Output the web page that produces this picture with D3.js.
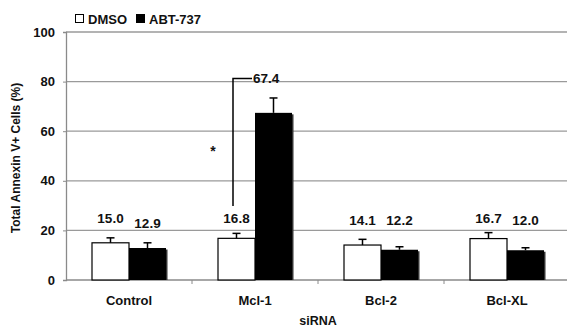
<!DOCTYPE html>
<html lang="en">
<head>
    <meta charset="UTF-8">
    <title>Annexin V+ Cells</title>
    <script src="https://d3js.org/d3.v7.min.js"></script>
    <style>
        body { margin: 0; background: #fff; }
        svg { display: block; font-family: "Liberation Sans", Arial, sans-serif; font-weight: bold; }
    </style>
</head>
<body>
    <div id="chart"></div>
    <script>
        const categories = ["Control", "Mcl-1", "Bcl-2", "Bcl-XL"];
        const seriesNames = ["DMSO", "ABT-737"];
        const dmso = [15.0, 16.8, 14.1, 16.7];
        const abt = [12.9, 67.4, 12.2, 12.0];
        const dmsoErr = [2.0, 2.0, 2.3, 2.4];
        const abtErr = [2.1, 6.0, 1.2, 1.0];
        // height (in % units) where each value label sits
        const dmsoLabelAt = [24.7, 24.7, 24.0, 25.0];
        const abtLabelAt = [22.7, 80.8, 24.0, 24.2];
        const yTicks = [0, 20, 40, 60, 80, 100];

        const width = 567, height = 328;
        const margin = {top: 32, right: -3, bottom: 48, left: 66};

        const svg = d3.select("#chart").append("svg")
            .attr("width", width)
            .attr("height", height);

        const x = d3.scaleBand()
            .domain(categories)
            .range([margin.left, width - margin.right]);

        const y = d3.scaleLinear()
            .domain([0, 100])
            .range([height - margin.bottom, margin.top]);

        const barW = 37;

        // gridlines
        svg.append("g")
            .selectAll("line")
            .data(yTicks.filter(d => d > 0))
            .enter().append("line")
            .attr("x1", margin.left)
            .attr("x2", width - margin.right)
            .attr("y1", d => y(d))
            .attr("y2", d => y(d))
            .attr("stroke", "#9a9a9a")
            .attr("stroke-width", 1.3);

        // y axis
        const yAxis = svg.append("g")
            .attr("transform", `translate(${margin.left},0)`)
            .call(d3.axisLeft(y).tickValues(yTicks).tickSize(3).tickPadding(8));
        yAxis.select(".domain").attr("stroke", "#8a8a8a").attr("stroke-width", 1.3);
        yAxis.selectAll(".tick line").attr("stroke", "#8a8a8a");
        yAxis.selectAll("text")
            .attr("font-size", 13)
            .attr("font-family", "'Liberation Sans', Arial, sans-serif")
            .attr("font-weight", "bold")
            .attr("fill", "#111");

        // x axis line + ticks at band boundaries
        svg.append("line")
            .attr("x1", margin.left).attr("x2", width - margin.right)
            .attr("y1", y(0)).attr("y2", y(0))
            .attr("stroke", "#8a8a8a").attr("stroke-width", 1.3);
        svg.append("g")
            .selectAll("line")
            .data(categories.slice(1))
            .enter().append("line")
            .attr("x1", d => x(d)).attr("x2", d => x(d))
            .attr("y1", y(0)).attr("y2", y(0) + 4)
            .attr("stroke", "#8a8a8a");

        svg.append("g")
            .selectAll("text")
            .data(categories)
            .enter().append("text")
            .attr("x", d => x(d) + x.bandwidth() / 2)
            .attr("y", y(0) + 25)
            .attr("text-anchor", "middle")
            .attr("font-size", 13)
            .attr("fill", "#111")
            .text(d => d);

        const cx = d => x(d) + x.bandwidth() / 2;

        // ABT-737 shadow + bars
        const g = svg.append("g");
        g.selectAll(".shadow")
            .data(categories)
            .enter().append("rect")
            .attr("x", d => cx(d) + 1.5)
            .attr("y", (d, i) => y(abt[i]) + 1.5)
            .attr("width", barW)
            .attr("height", (d, i) => y(0) - y(abt[i]) - 1.5)
            .attr("fill", "#333");

        g.selectAll(".abt")
            .data(categories)
            .enter().append("rect")
            .attr("x", d => cx(d))
            .attr("y", (d, i) => y(abt[i]))
            .attr("width", barW)
            .attr("height", (d, i) => y(0) - y(abt[i]))
            .attr("fill", "#000");

        g.selectAll(".dmso")
            .data(categories)
            .enter().append("rect")
            .attr("x", d => cx(d) - barW)
            .attr("y", (d, i) => y(dmso[i]))
            .attr("width", barW)
            .attr("height", (d, i) => y(0) - y(dmso[i]))
            .attr("fill", "#fff")
            .attr("stroke", "#000")
            .attr("stroke-width", 1.2);

        // error bars
        function errBars(vals, errs, offset) {
            const eg = svg.append("g").attr("stroke", "#000").attr("stroke-width", 1.5);
            categories.forEach((c, i) => {
                const ex = cx(c) + offset;
                eg.append("line")
                    .attr("x1", ex).attr("x2", ex)
                    .attr("y1", y(vals[i])).attr("y2", y(vals[i] + errs[i]));
                eg.append("line")
                    .attr("x1", ex - 4).attr("x2", ex + 4)
                    .attr("y1", y(vals[i] + errs[i])).attr("y2", y(vals[i] + errs[i]));
            });
        }
        errBars(dmso, dmsoErr, -barW / 2);
        errBars(abt, abtErr, barW / 2);

        // value labels
        const lbl = svg.append("g")
            .attr("font-size", 13.5)
            .attr("text-anchor", "middle")
            .attr("fill", "#111");
        categories.forEach((c, i) => {
            lbl.append("text")
                .attr("x", cx(c) - barW / 2)
                .attr("y", y(dmsoLabelAt[i]))
                .attr("dy", "0.35em")
                .text(dmso[i].toFixed(1));
            if (i !== 1) {
                lbl.append("text")
                    .attr("x", cx(c) + barW / 2)
                    .attr("y", y(abtLabelAt[i]))
                    .attr("dy", "0.35em")
                    .text(abt[i].toFixed(1));
            }
        });

        // Mcl-1 bracket with 67.4 label and asterisk
        const bx = cx("Mcl-1") - 22;
        svg.append("path")
            .attr("d", `M${bx},${y(29.8)}V${y(81.3)}H${bx + 19}`)
            .attr("fill", "none")
            .attr("stroke", "#000")
            .attr("stroke-width", 1.5);
        svg.append("text")
            .attr("x", bx + 20)
            .attr("y", y(81.3))
            .attr("dy", "0.35em")
            .attr("font-size", 13.5)
            .attr("fill", "#111")
            .text(abt[1].toFixed(1));
        svg.append("text")
            .attr("x", bx - 20)
            .attr("y", y(54))
            .attr("dy", "0.7em")
            .attr("text-anchor", "middle")
            .attr("font-size", 14)
            .attr("fill", "#111")
            .text("*");

        // y title
        svg.append("text")
            .attr("transform", `translate(20,${(y(0) + y(100)) / 2 + 2}) rotate(-90)`)
            .attr("text-anchor", "middle")
            .attr("font-size", 12)
            .attr("fill", "#111")
            .text("Total Annexin V+ Cells (%)");

        // x title
        svg.append("text")
            .attr("x", (margin.left + width - margin.right) / 2)
            .attr("y", 325)
            .attr("text-anchor", "middle")
            .attr("font-size", 12.5)
            .attr("fill", "#111")
            .text("siRNA");

        // legend
        const leg = svg.append("g").attr("transform", "translate(75,19)");
        let lx = 0;
        seriesNames.forEach((s, i) => {
            leg.append("rect")
                .attr("x", lx + 0.5).attr("y", -4.5)
                .attr("width", 8).attr("height", 8)
                .attr("fill", i === 0 ? "#fff" : "#000")
                .attr("stroke", "#000");
            leg.append("text")
                .attr("x", lx + 13)
                .attr("y", 0)
                .attr("dy", "0.35em")
                .attr("font-size", 13)
                .attr("fill", "#111")
                .text(s);
            lx += 61;
        });
    </script>
</body>
</html>
